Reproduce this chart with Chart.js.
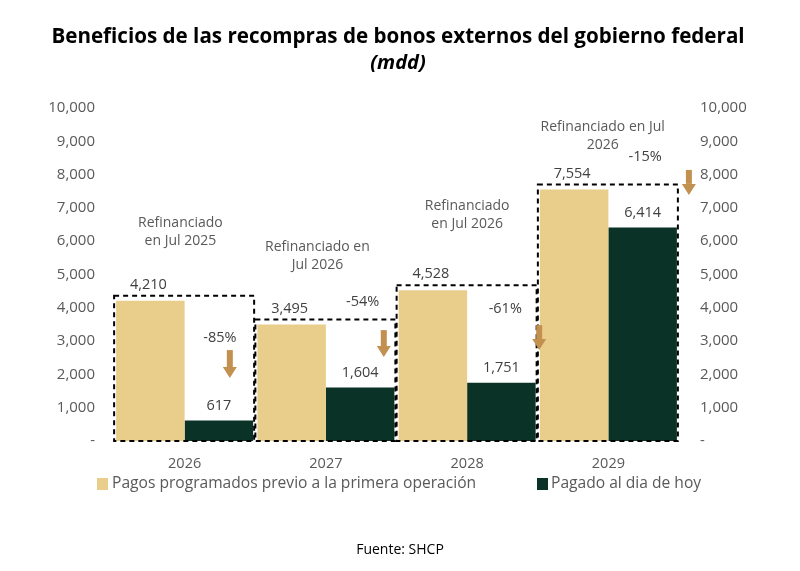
<!DOCTYPE html>
<html>
<head>
<meta charset="utf-8">
<script src="https://cdn.jsdelivr.net/npm/chart.js@4.4.1/dist/chart.umd.min.js"></script>
<style>
  html, body { margin: 0; padding: 0; background: #fff; }
  #wrap { width: 800px; height: 571px; }
</style>
</head>
<body>
<div id="wrap"><canvas id="chart"></canvas></div>
<script>
// ── Datos ──
const YEARS     = ['2026', '2027', '2028', '2029'];
const PROGRAMADO = [4210, 3495, 4528, 7554];
const PAGADO     = [617, 1604, 1751, 6414];
const VARIACION  = ['-85%', '-54%', '-61%', '-15%'];
const NOTAS = [
  ['Refinanciado', 'en Jul 2025'],
  ['Refinanciado en', 'Jul 2026'],
  ['Refinanciado', 'en Jul 2026'],
  ['Refinanciado en Jul', '2026'],
];
const Y_TICKS = [0, 1000, 2000, 3000, 4000, 5000, 6000, 7000, 8000, 9000, 10000];

// posiciones de notas/flechas en unidades de datos (offset dentro de la categoría, valor)
const NOTA_POS   = [[-0.03, 6550], [-0.06, 5830], [0.0, 7060], [-0.04, 9430]];
const PCT_POS    = [[0.25, 3090], [0.26, 4170], [0.27, 3960], [0.26, 8530]];
const FLECHA_POS = [[0.32, 2730, 1890], [0.41, 3330, 2520], [0.51, 3480, 2730], [0.57, 8140, 7390]];

const BEIGE = '#E9CD8B';
const VERDE = '#0B3227';
const ORO   = '#C29150';
const GRIS  = '#595959';
const FONT  = '"Open Sans", "Noto Sans", sans-serif';

const fmt = v => v.toLocaleString('en-US');

const extras = {
  id: 'extras',
  afterDatasetsDraw(chart) {
    const { ctx, scales: { x, y } } = chart;
    const m0 = chart.getDatasetMeta(0).data;
    const m1 = chart.getDatasetMeta(1).data;
    const catW = x.getPixelForValue(1) - x.getPixelForValue(0);
    ctx.save();

    // cajas punteadas
    ctx.strokeStyle = '#000';
    ctx.lineWidth = 2;
    ctx.setLineDash([5, 4]);
    YEARS.forEach((_, i) => {
      const a = m0[i], b = m1[i];
      const left = a.x - a.width / 2 - 2;
      const right = b.x + b.width / 2 + 1;
      const top = Math.min(a.y, b.y) - 5;
      ctx.strokeRect(left, top, right - left, y.bottom - top);
    });
    ctx.setLineDash([]);

    // etiquetas de valor
    ctx.font = '14.5px ' + FONT;
    ctx.fillStyle = '#404040';
    ctx.textAlign = 'center';
    ctx.textBaseline = 'middle';
    YEARS.forEach((_, i) => {
      ctx.fillText(fmt(PROGRAMADO[i]), m0[i].x - 2, m0[i].y - 16);
      ctx.fillText(fmt(PAGADO[i]), m1[i].x, m1[i].y - 15);
    });

    // porcentajes
    YEARS.forEach((_, i) => {
      const [dx, v] = PCT_POS[i];
      ctx.fillText(VARIACION[i], x.getPixelForValue(i) + dx * catW, y.getPixelForValue(v));
    });

    // notas
    ctx.font = '14px ' + FONT;
    ctx.fillStyle = GRIS;
    NOTAS.forEach((lines, i) => {
      const [dx, v] = NOTA_POS[i];
      const cx = x.getPixelForValue(i) + dx * catW;
      lines.forEach((t, j) => ctx.fillText(t, cx, y.getPixelForValue(v) + j * 18));
    });

    // flechas
    ctx.fillStyle = ORO;
    FLECHA_POS.forEach(([dx, v0, v1], i) => {
      const cx = x.getPixelForValue(i) + dx * catW;
      const y0 = y.getPixelForValue(v0), y1 = y.getPixelForValue(v1);
      const head = 11;
      ctx.fillRect(cx - 3, y0, 6, y1 - y0 - head);
      ctx.beginPath();
      ctx.moveTo(cx - 7, y1 - head);
      ctx.lineTo(cx + 7, y1 - head);
      ctx.lineTo(cx, y1);
      ctx.closePath();
      ctx.fill();
    });
    ctx.restore();
  },
  afterDraw(chart) {
    const { ctx } = chart;
    ctx.save();
    ctx.textAlign = 'center';
    ctx.textBaseline = 'middle';
    ctx.fillStyle = '#000';
    ctx.font = 'bold 20.6px ' + FONT;
    ctx.fillText('Beneficios de las recompras de bonos externos del gobierno federal', 398, 37);
    ctx.font = 'italic bold 20px ' + FONT;
    ctx.fillText('(mdd)', 398, 63);

    // leyenda
    ctx.font = '15.6px ' + FONT;
    ctx.textAlign = 'left';
    ctx.fillStyle = BEIGE;
    ctx.fillRect(97, 478, 11, 12);
    ctx.fillStyle = GRIS;
    ctx.fillText(chart.data.datasets[0].label, 112, 484);
    ctx.fillStyle = VERDE;
    ctx.fillRect(537, 478, 11, 12);
    ctx.fillStyle = GRIS;
    ctx.fillText(chart.data.datasets[1].label, 551, 484);

    ctx.textAlign = 'center';
    ctx.font = '14px ' + FONT;
    ctx.fillStyle = '#000';
    ctx.fillText('Fuente: SHCP', 400, 550);
    ctx.restore();
  }
};

const yTicks = {
  color: GRIS,
  font: { size: 15, family: FONT },
  stepSize: 1000,
  callback: v => (v === 0 ? '-' : fmt(v)),
};

new Chart(document.getElementById('chart'), {
  type: 'bar',
  data: {
    labels: YEARS,
    datasets: [
      { label: 'Pagos programados previo a la primera operación', data: PROGRAMADO, backgroundColor: BEIGE, yAxisID: 'y' },
      { label: 'Pagado al dia de hoy', data: PAGADO, backgroundColor: VERDE, yAxisID: 'y' },
    ]
  },
  options: {
    responsive: true,
    maintainAspectRatio: false,
    animation: false,
    categoryPercentage: 0.97,
    barPercentage: 1,
    layout: { padding: { top: 108, left: 0, right: 0, bottom: 0 } },
    plugins: {
      legend: { display: false },
      tooltip: { enabled: false },
    },
    scales: {
      x: {
        grid: { display: false, drawTicks: false },
        border: { display: false },
        ticks: { color: GRIS, font: { size: 14.5, family: FONT }, padding: 14 },
        afterFit: s => { s.height = 130; },
      },
      y: {
        position: 'left',
        min: 0, max: 10000,
        grid: { display: false, drawTicks: false },
        border: { display: false },
        ticks: { ...yTicks, padding: 19 },
        afterBuildTicks: s => { s.ticks = Y_TICKS.map(v => ({ value: v })); },
        afterFit: s => { s.width = 114; },
      },
      y2: {
        position: 'right',
        min: 0, max: 10000,
        grid: { display: false, drawTicks: false },
        border: { display: false },
        ticks: { ...yTicks, padding: 21 },
        afterBuildTicks: s => { s.ticks = Y_TICKS.map(v => ({ value: v })); },
        afterFit: s => { s.width = 121; },
      },
    }
  },
  plugins: [extras]
});
</script>
</body>
</html>
